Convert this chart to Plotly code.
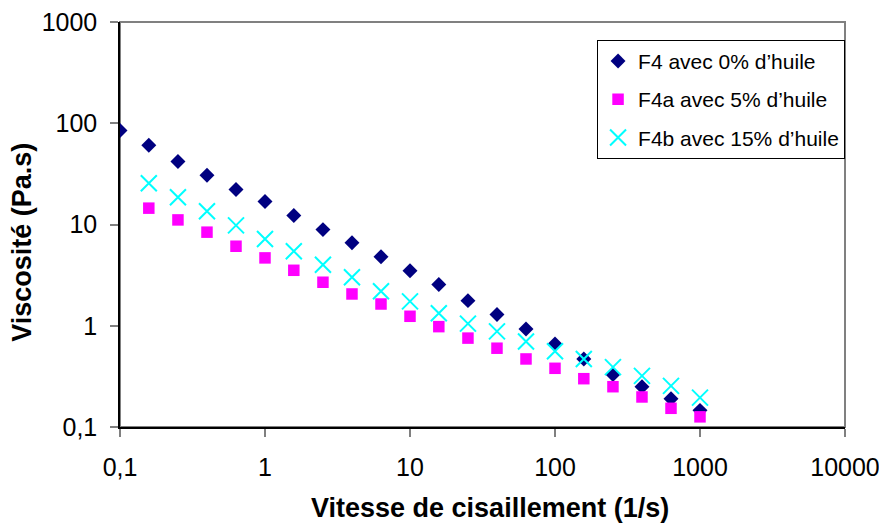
import plotly.graph_objects as go

# Shear rate (1/s), 5 points per decade
shear_rate = [0.1, 0.158, 0.251, 0.398, 0.631, 1, 1.58, 2.51, 3.98, 6.31,
              10, 15.8, 25.1, 39.8, 63.1, 100, 158, 251, 398, 631, 1000]

# Viscosity (Pa.s)
f4 = [85, 60.5, 42, 30.6, 22.2, 16.9, 12.3, 8.9, 6.6, 4.8,
      3.5, 2.55, 1.77, 1.29, 0.93, 0.66, 0.47, 0.33, 0.25, 0.19, 0.146]
f4a = [14.5, 11.1, 8.4, 6.1, 4.68, 3.53, 2.69, 2.06, 1.64, 1.24,
       0.98, 0.755, 0.60, 0.47, 0.38, 0.30, 0.25, 0.198, 0.153, 0.126]
f4b = [25.6, 18.6, 13.5, 9.8, 7.2, 5.45, 4.0, 3.01, 2.19, 1.74,
       1.33, 1.05, 0.88, 0.70, 0.56, 0.47, 0.39, 0.32, 0.255, 0.195]

x_ticks = [0.1, 1, 10, 100, 1000, 10000]
x_labels = ["0,1", "1", "10", "100", "1000", "10000"]
y_ticks = [0.1, 1, 10, 100, 1000]
y_labels = ["0,1", "1", "10", "100", "1000"]

FONT = "Liberation Sans, Arial, sans-serif"

fig = go.Figure()

fig.add_trace(go.Scatter(
    x=shear_rate, y=f4, mode="markers", name="F4 avec 0% d’huile",
    legendgroup="a",
    marker=dict(symbol="diamond", size=11.5, color="#000080"),
))
fig.add_trace(go.Scatter(
    x=shear_rate[1:], y=f4a, mode="markers", name="F4a avec 5% d’huile",
    legendgroup="b",
    marker=dict(symbol="square", size=11.5, color="#FF00FF"),
))
fig.add_trace(go.Scatter(
    x=shear_rate[1:], y=f4b, mode="markers", name="F4b avec 15% d’huile",
    legendgroup="c",
    marker=dict(symbol="x-thin", size=16, color="#00FFFF",
                line=dict(width=2, color="#00FFFF")),
))

# grey frame on top / right, black axis lines drawn on left / bottom
fig.add_shape(type="rect", xref="paper", yref="paper", x0=0, y0=0, x1=1, y1=1,
              line=dict(color="#808080", width=2), layer="below")

axis_common = dict(
    type="log", showgrid=False, zeroline=False, automargin=False,
    showline=True, linecolor="black", linewidth=1.5,
    ticks="outside", ticklen=8, tickcolor="#808080", tickwidth=1.5,
    tickfont=dict(family=FONT, size=25, color="black"),
    ticklabeloverflow="allow",
)

fig.update_xaxes(range=[-1, 4], tickvals=x_ticks, ticktext=x_labels,
                 ticklabelstandoff=9, **axis_common)
fig.update_yaxes(range=[-1, 3], tickvals=y_ticks, ticktext=y_labels,
                 ticklabelstandoff=8, **axis_common)

# axis titles as annotations for precise placement
fig.add_annotation(text="<b>Vitesse de cisaillement (1/s)</b>", xref="paper", yref="paper",
                   x=0.51, y=-0.2, xanchor="center", yanchor="middle", showarrow=False,
                   font=dict(family=FONT, size=27, color="black"))
fig.add_annotation(text="<b>Viscosité (Pa.s)</b>", xref="paper", yref="paper",
                   x=-0.135, y=0.455, xanchor="center", yanchor="middle",
                   textangle=-90, showarrow=False,
                   font=dict(family=FONT, size=27, color="black"))

# the page adds an 8px body margin, so the figure is shrunk to fit the window
fig.update_layout(
    width=879, height=515,
    margin=dict(l=112, r=42, t=14, b=96, autoexpand=False),
    plot_bgcolor="white", paper_bgcolor="white",
    font=dict(family=FONT, color="black"),
    legend=dict(
        x=0.658, y=0.956, xanchor="left", yanchor="top",
        bordercolor="black", borderwidth=1, bgcolor="white",
        font=dict(family=FONT, size=21, color="black"),
        traceorder="grouped", tracegroupgap=8,
    ),
)

fig.write_html("out.html")
